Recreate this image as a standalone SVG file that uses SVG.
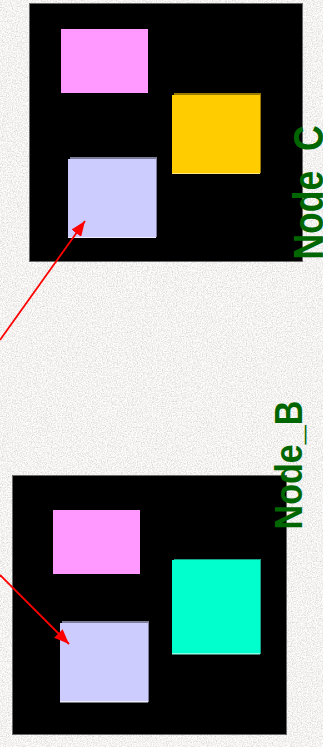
<svg xmlns="http://www.w3.org/2000/svg" width="323" height="747" viewBox="0 0 323 747">
<style>
.box{fill:#000;stroke:#6a6a6a;stroke-width:1}
.pink{fill:#ff99ff}
.lav{fill:#ccccff}
.lavsh{fill:#7d7d99}
.label{font-family:"Liberation Sans",Arial,sans-serif;font-weight:bold;fill:#006600}
.conn{stroke:#ff0000;stroke-width:1.8;fill:none}
</style>
<defs>
<filter id="granite" x="0" y="0" width="100%" height="100%" filterUnits="userSpaceOnUse">
<feTurbulence type="fractalNoise" baseFrequency="0.8" numOctaves="3" seed="4"/>
<feColorMatrix type="matrix" values="0.6 0 0 0 0.6  0.6 0 0 0 0.59  0.6 0 0 0 0.58  0 0 0 0 1"/>
</filter>
<marker id="arrow" markerUnits="userSpaceOnUse" markerWidth="16" markerHeight="12" refX="15" refY="6" orient="auto">
<path d="M0,0 L15,6 L0,12 z" fill="#ff0000"/>
</marker>
</defs>
<rect x="0" y="0" width="323" height="747" fill="#e6e5e3" filter="url(#granite)"/>

<g id="node_C">
<rect class="box" x="29.5" y="3.5" width="273" height="258"/>
<rect class="pink" x="61" y="29" width="87" height="64"/>
<rect x="174" y="93" width="87" height="80" fill="#9c7a00"/>
<rect x="172" y="95" width="88" height="79" fill="#ffcc00"/>
<rect x="172" y="173" width="88" height="1" fill="#ffe680"/>
<rect class="lavsh" x="70" y="157" width="87" height="80"/>
<rect class="lav" x="68" y="159" width="88" height="79"/>
<rect x="68" y="237" width="88" height="1" fill="#eeeeff"/>
<text class="label" font-size="43" transform="translate(323,259.5) rotate(-90)" textLength="134" lengthAdjust="spacingAndGlyphs">Node_C</text>
</g>

<g id="node_B">
<rect class="box" x="12.5" y="475.5" width="274" height="259"/>
<rect class="pink" x="53" y="510" width="87" height="64"/>
<rect x="174" y="559" width="87" height="95" fill="#12a38a"/>
<rect x="172" y="560" width="88" height="94" fill="#00ffcc"/>
<rect x="172" y="653" width="88" height="1.5" fill="#88ffe6"/>
<rect class="lavsh" x="62" y="621" width="87" height="81"/>
<rect class="lav" x="60" y="623" width="88" height="79"/>
<rect x="60" y="701" width="88" height="1.5" fill="#eeeeff"/>
<text class="label" font-size="38" transform="translate(302,529.5) rotate(-90)" textLength="129" lengthAdjust="spacingAndGlyphs">Node_B</text>
</g>

<g id="connectors">
<line class="conn" x1="0" y1="340" x2="85" y2="221" marker-end="url(#arrow)"/>
<line class="conn" x1="0" y1="575" x2="69" y2="644" marker-end="url(#arrow)"/>
</g>
</svg>
